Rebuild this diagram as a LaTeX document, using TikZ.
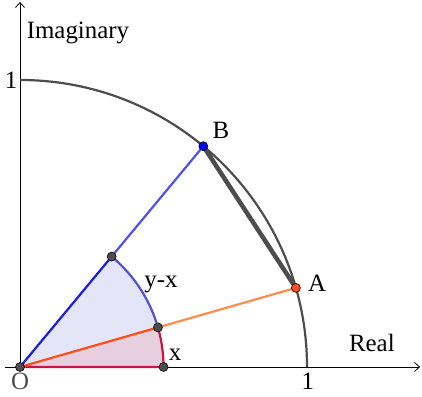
\documentclass[tikz,border=0pt]{standalone}
\usepackage{fontspec}
\setmainfont{Liberation Serif}
\usepackage{xcolor}
\usetikzlibrary{arrows.meta,calc}
\definecolor{circgray}{HTML}{4D4D4D}
\definecolor{rayblue}{HTML}{1A1AE6}
\definecolor{rayblueL}{HTML}{5050F0}
\definecolor{rayred}{HTML}{FF4D1A}
\definecolor{rayredL}{HTML}{FF8C4D}
\definecolor{arcred}{HTML}{CC1447}
\definecolor{arcblue}{HTML}{5050D8}
\definecolor{secblue}{HTML}{E4E6F7}
\definecolor{secred}{HTML}{E7CFE0}

\begin{document}
\begin{tikzpicture}[
  x=287bp, y=287bp, font=\fontsize{25}{27}\selectfont,
  >={Straight Barb[length=5bp, width=9bp]},
  axis/.style={draw=black, line width=0.8bp},
  circ/.style={draw=circgray, line width=2.2bp},
  chord/.style={draw=circgray, line width=4.5bp},
  ray/.style={line width=2.2bp},
  pt/.style={circle, draw=black, line width=0.6bp, fill=circgray, inner sep=0pt, minimum size=9bp},
  lbl/.style={inner sep=0pt}]
  \useasboundingbox (-0.0697,-0.1045) rectangle (1.4007,1.2787);
  % points
  \coordinate (O) at (0,0);
  \coordinate (A) at (16:1);
  \coordinate (B) at (50.3:1);
  \coordinate (a) at (16:0.5);
  \coordinate (b) at (50.3:0.5);
  \coordinate (x) at (0.5,0);
  \coordinate (xl) at (-0.052,0);
  \coordinate (xr) at (1.394,0);
  \coordinate (yt) at (0,1.272);
  \coordinate (i) at (0,1);
  % sectors
  \fill[secblue] (O) -- (a) arc[start angle=16, end angle=50.3, radius=0.5] -- cycle;
  \fill[secred] (O) -- (x) arc[start angle=0, end angle=16, radius=0.5] -- cycle;
  % axes
  \draw[axis, ->] (xl) -- (xr);
  \draw[axis, ->] (O) -- (yt);
  % unit circle and chord
  \draw[circ] (i) arc[start angle=90, end angle=0, radius=1];
  \draw[chord] (B) -- (A);
  % rays and small arcs
  \draw[ray, rayredL] (a) -- (A);
  \draw[ray, rayblueL] (b) -- (B);
  \draw[ray, arcred] (O) -- (x) arc[start angle=0, end angle=16, radius=0.5];
  \draw[ray, arcblue] (a) arc[start angle=16, end angle=50.3, radius=0.5];
  \draw[ray, rayred] (O) -- (a);
  \draw[ray, rayblue] (O) -- (b);
  % dots
  \node[pt] (pO) at (O) {};
  \node[pt] (px) at (x) {};
  \node[pt] (pa) at (a) {};
  \node[pt] (pb) at (b) {};
  \node[pt, fill=rayred] (pA) at (A) {};
  \node[pt, fill=blue] (pB) at (B) {};
  % labels
  \node[lbl] (tImag) at (0.202,1.164) {Imaginary};
  \node[lbl] (tOneY) at (-0.031,1.0) {1};
  \node[lbl] (tReal) at (1.226,0.084) {Real};
  \node[lbl] (tOneX) at (1.003,-0.049) {1};
  \node[lbl, text=circgray] (tO) at (0,-0.049) {O};
  \node[lbl] (tB) at (0.700,0.826) {B};
  \node[lbl] (tA) at (1.035,0.293) {A};
  \node[lbl] (tyx) at (0.491,0.286) {y-x};
  \node[lbl] (tx) at (0.540,0.042) {x};
\end{tikzpicture}
\end{document}
